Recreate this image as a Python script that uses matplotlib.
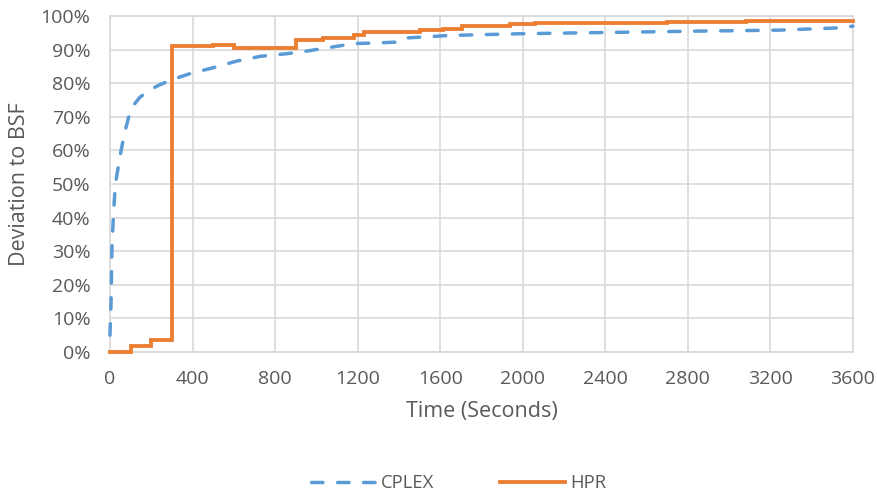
import numpy as np
import matplotlib.pyplot as plt
from matplotlib.ticker import FuncFormatter

# values
cplex_t = [0, 2, 5, 10, 18, 26, 40, 54, 70, 91, 115, 143, 192, 240, 298, 395, 500, 615, 728, 858,
           956, 1070, 1182, 1300, 1411, 1444, 1639, 1963, 2289, 2517, 2840, 3249, 3541, 3600]
cplex_v = [5, 9, 14.5, 32, 42, 50, 55, 60, 65, 70, 73.5, 75.7, 78, 79.5, 81, 83, 84.6, 86.6, 88, 88.8,
           89.6, 90.7, 91.8, 92, 92.3, 93.5, 94.2, 94.7, 95.0, 95.2, 95.5, 95.8, 96.5, 97.0]

hpr_t = [0, 100, 200, 300, 500, 600, 900, 1030, 1180, 1230, 1500, 1615, 1704, 1938, 2060, 2290, 2700, 3084, 3600]
hpr_v = [0, 1.7, 3.5, 91.2, 91.5, 90.4, 92.9, 93.6, 94.5, 95.1, 95.7, 96.0, 97.0, 97.5, 97.8, 98.0, 98.2, 98.5, 98.5]

x_ticks = list(range(0, 3601, 400))
y_ticks = list(range(0, 101, 10))

plt.rcParams['font.family'] = ['Open Sans', 'DejaVu Sans']
txt = '#595959'
grid = '#D9D9D9'

fig = plt.figure(figsize=(8.77, 4.93), dpi=100)
ax = fig.add_axes([0.1254, 0.286, 0.8472, 0.6815])

ax.plot(cplex_t, cplex_v, color='#5B9BD5', lw=2.5, dashes=(3.3, 4.2),
        dash_capstyle='round', solid_joinstyle='round', label='CPLEX', zorder=3,
        clip_on=False)
ax.plot(hpr_t, hpr_v, color='#ED7D31', lw=2.75, drawstyle='steps-post',
        solid_joinstyle='miter', label='HPR', zorder=4, clip_on=False)

ax.set_xlim(0, 3600)
ax.set_ylim(0, 100)
ax.set_xticks(x_ticks)
ax.set_yticks(y_ticks)
ax.yaxis.set_major_formatter(FuncFormatter(lambda v, p: '%d%%' % v))
ax.grid(True, color=grid, lw=1.2)
ax.set_axisbelow(True)
for s in ax.spines.values():
    s.set_color(grid)
    s.set_linewidth(1.2)
    s.set_zorder(1)
ax.tick_params(length=0, colors=txt, labelsize=14)
ax.tick_params(axis='x', pad=13)
ax.tick_params(axis='y', pad=14)

ax.set_xlabel('Time (Seconds)', color=txt, fontsize=15.5, labelpad=9)
ax.set_ylabel('Deviation to BSF', color=txt, fontsize=15.5, labelpad=8)

fig.legend(loc='center', bbox_to_anchor=(0.523, 0.02), ncol=2, frameon=False,
           fontsize=13.3, labelcolor=txt, handlelength=3.5, columnspacing=3.6,
           handletextpad=0.3)

fig.savefig('out.png', dpi=100)
